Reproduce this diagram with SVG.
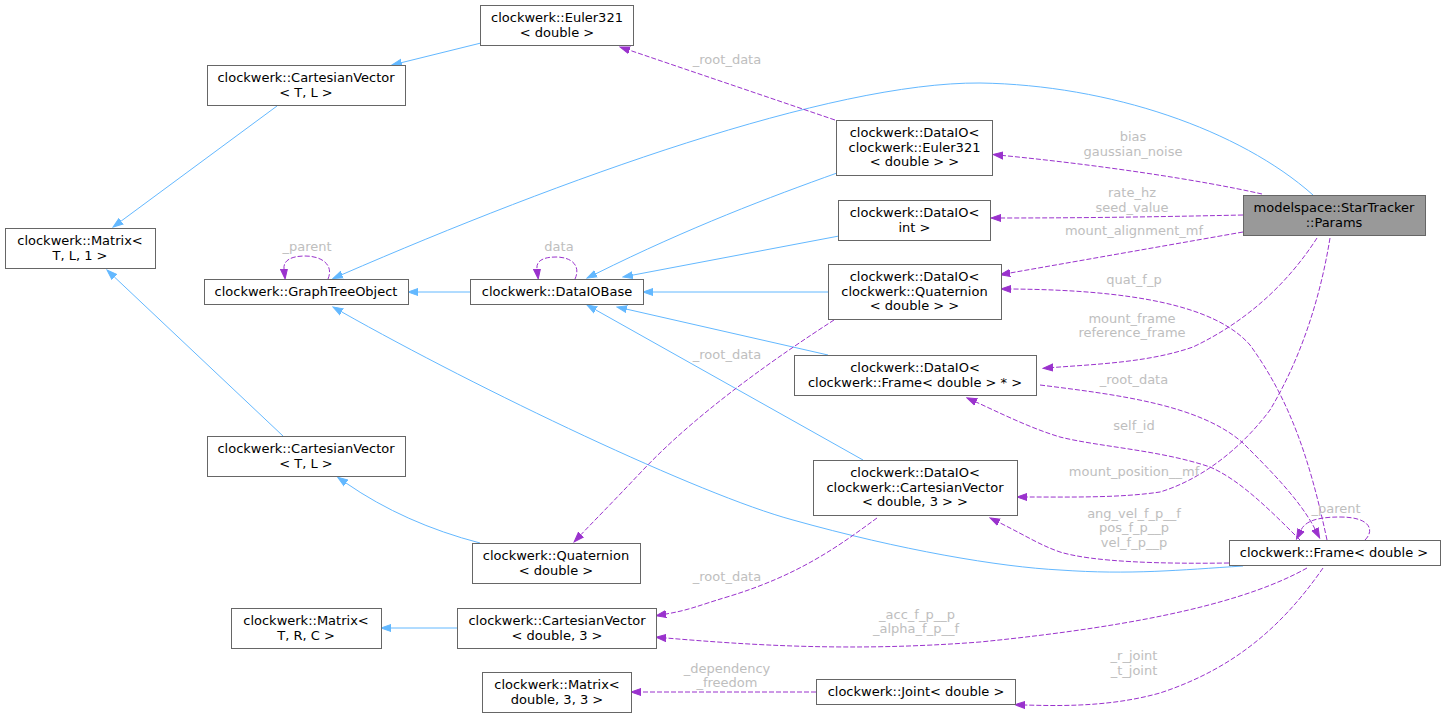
<svg xmlns="http://www.w3.org/2000/svg" width="1445" height="717" viewBox="0 0 1445 717">
<defs>
<style>
.node rect{fill:#ffffff;stroke:#666666;stroke-width:1}
.node.hl rect{fill:#999999}
.node text{font-family:"DejaVu Sans",sans-serif;font-size:13px;fill:#000000;text-anchor:middle}
.inh{fill:none;stroke:#63b8ff;stroke-width:1;marker-end:url(#ab)}
.use{fill:none;stroke:#9a32cd;stroke-width:1;stroke-dasharray:5,2;marker-end:url(#ap)}
.lbl{font-family:"DejaVu Sans",sans-serif;font-size:13px;fill:#bebebe;text-anchor:middle}
</style>
<marker id="ab" markerUnits="userSpaceOnUse" markerWidth="11" markerHeight="9" refX="0" refY="4.5" orient="auto" viewBox="0 0 11 9"><path d="M0,1 L10,4.5 L0,8 z" fill="#63b8ff" stroke="#63b8ff"/></marker>
<marker id="ap" markerUnits="userSpaceOnUse" markerWidth="11" markerHeight="9" refX="0" refY="4.5" orient="auto" viewBox="0 0 11 9"><path d="M0,1 L10,4.5 L0,8 z" fill="#9a32cd" stroke="#9a32cd"/></marker>
</defs>
<rect width="1445" height="717" fill="#ffffff"/>
<g id="connectors">
<path class="inh" d="M481,43 L401.7,62.6"/>
<path class="inh" d="M277,106 L121.1,221.1"/>
<path class="inh" d="M1313,195 C1240,130 1110,85 980,83 C830,82 560,180 342,274.6"/>
<path class="inh" d="M470,292 L418,292"/>
<path class="inh" d="M1243,566 C1180,570 1130,575 1060,570 C1000,567 900,550 793,520 C700,495 480,390 341.7,311.9"/>
<path class="inh" d="M283,436 L114.3,276.9"/>
<path class="inh" d="M480,543 C430,530 385,510 346,483"/>
<path class="inh" d="M837,173 C770,197 690,227 596,273.7"/>
<path class="inh" d="M839,236 L632.8,275.1"/>
<path class="inh" d="M829,292 L653,292"/>
<path class="inh" d="M828,355 L626.8,309.2"/>
<path class="inh" d="M863,460 L595.7,309.9"/>
<path class="inh" d="M457,628 L391,628"/>
<path class="use" d="M835,120 L629.5,50.2"/>
<path class="use" d="M1262,194 C1200,180 1100,165 1003,155.5"/>
<path class="use" d="M1243,215 C1150,217 1080,218 1001,218"/>
<path class="use" d="M1243,232 L1010,273"/>
<path class="use" d="M1327,540 C1310,460 1290,400 1250,345 C1215,305 1130,290 1011,289"/>
<path class="use" d="M1317,238 C1290,280 1250,320 1193,347 C1150,362 1100,364 1053,367.5"/>
<path class="use" d="M1040,385 C1120,395 1200,405 1243,443 C1270,470 1300,500 1315,529"/>
<path class="use" d="M1300,540 C1270,510 1240,480 1210,467 C1160,450 1100,447 1060,437 C1030,428 1000,413 976,402"/>
<path class="use" d="M1365,540 C1375,530 1370,517 1340,517 C1315,517 1305,522 1301,530"/>
<path class="use" d="M1330,238 C1320,300 1300,360 1270,410 C1240,450 1200,480 1160,492 C1120,498 1070,497 1027,497"/>
<path class="use" d="M1229,563 C1160,564 1093,562 1060,552 C1040,545 1030,538 999,522.4"/>
<path class="use" d="M877,518 C840,545 800,575 727,597 C700,605 690,610 666,614"/>
<path class="use" d="M1307,568 C1250,600 1150,625 980,642 C850,652 750,645 666,638"/>
<path class="use" d="M1323,568 C1280,630 1230,670 1160,693 C1110,707 1060,706 1025,705"/>
<path class="use" d="M816,692 L641,692"/>
<path class="use" d="M834,320 C780,355 700,410 643,470 C610,505 592,523 581,534.6"/>
<path class="use" d="M328,279 C334,265 322,256 305,256 C292,256 283,260 284,269"/>
<path class="use" d="M575,279 C581,266 572,257 556,257 C543,257 536,261 537,269"/>
<text class="lbl" x="727" y="64">_root_data</text>
<text class="lbl" x="1133" y="141">bias</text>
<text class="lbl" x="1133" y="156">gaussian_noise</text>
<text class="lbl" x="1132" y="197">rate_hz</text>
<text class="lbl" x="1132" y="212">seed_value</text>
<text class="lbl" x="1134" y="235">mount_alignment_mf</text>
<text class="lbl" x="1134" y="284">quat_f_p</text>
<text class="lbl" x="1132" y="323">mount_frame</text>
<text class="lbl" x="1132" y="337">reference_frame</text>
<text class="lbl" x="1134" y="384">_root_data</text>
<text class="lbl" x="1134" y="430">self_id</text>
<text class="lbl" x="1134" y="476">mount_position__mf</text>
<text class="lbl" x="1134" y="518">ang_vel_f_p__f</text>
<text class="lbl" x="1134" y="532">pos_f_p__p</text>
<text class="lbl" x="1134" y="547">vel_f_p__p</text>
<text class="lbl" x="1336" y="513">_parent</text>
<text class="lbl" x="917" y="619">_acc_f_p__p</text>
<text class="lbl" x="916" y="633">_alpha_f_p__f</text>
<text class="lbl" x="1134" y="660">_r_joint</text>
<text class="lbl" x="1134" y="675">_t_joint</text>
<text class="lbl" x="727" y="673">_dependency</text>
<text class="lbl" x="727" y="687">_freedom</text>
<text class="lbl" x="727" y="359">_root_data</text>
<text class="lbl" x="727" y="581">_root_data</text>
<text class="lbl" x="307" y="251">_parent</text>
<text class="lbl" x="559" y="251">data</text>
</g>
<g id="n_euler321" class="node"><rect x="480.5" y="5.5" width="153" height="40"/><text x="557" y="22">clockwerk::Euler321</text><text x="557" y="36.5">&lt; double &gt;</text></g>
<g id="n_cartvec_tl_top" class="node"><rect x="207.5" y="65.5" width="198" height="40"/><text x="306" y="82">clockwerk::CartesianVector</text><text x="306" y="96.5">&lt; T, L &gt;</text></g>
<g id="n_matrix_tl1" class="node"><rect x="5.5" y="228.5" width="150" height="40"/><text x="80" y="245">clockwerk::Matrix&lt;</text><text x="80" y="259.5">T, L, 1 &gt;</text></g>
<g id="n_graphtree" class="node"><rect x="204.5" y="279.5" width="204" height="25"/><text x="306" y="296">clockwerk::GraphTreeObject</text></g>
<g id="n_dataiobase" class="node"><rect x="470.5" y="279.5" width="173" height="25"/><text x="557" y="296">clockwerk::DataIOBase</text></g>
<g id="n_dataio_euler" class="node"><rect x="836.5" y="120.5" width="156" height="55"/><text x="914.5" y="137">clockwerk::DataIO&lt;</text><text x="914.5" y="151.5"> clockwerk::Euler321</text><text x="914.5" y="166">&lt; double &gt; &gt;</text></g>
<g id="n_dataio_int" class="node"><rect x="838.5" y="200.5" width="152" height="40"/><text x="914.5" y="217">clockwerk::DataIO&lt;</text><text x="914.5" y="231.5">int &gt;</text></g>
<g id="n_dataio_quat" class="node"><rect x="828.5" y="264.5" width="173" height="55"/><text x="914.5" y="281">clockwerk::DataIO&lt;</text><text x="914.5" y="295.5"> clockwerk::Quaternion</text><text x="914.5" y="310">&lt; double &gt; &gt;</text></g>
<g id="n_dataio_frame" class="node"><rect x="794.5" y="355.5" width="242" height="40"/><text x="915" y="372">clockwerk::DataIO&lt;</text><text x="915" y="386.5"> clockwerk::Frame&lt; double &gt; * &gt;</text></g>
<g id="n_dataio_cartvec" class="node"><rect x="813.5" y="460.5" width="204" height="55"/><text x="915" y="477">clockwerk::DataIO&lt;</text><text x="915" y="491.5"> clockwerk::CartesianVector</text><text x="915" y="506">&lt; double, 3 &gt; &gt;</text></g>
<g id="n_params" class="node hl"><rect x="1243.5" y="195.5" width="182" height="40"/><text x="1334" y="212">modelspace::StarTracker</text><text x="1334" y="226.5">::Params</text></g>
<g id="n_frame" class="node"><rect x="1229.5" y="540.5" width="211" height="25"/><text x="1334" y="557">clockwerk::Frame&lt; double &gt;</text></g>
<g id="n_cartvec_tl_low" class="node"><rect x="207.5" y="436.5" width="198" height="40"/><text x="306" y="453">clockwerk::CartesianVector</text><text x="306" y="467.5">&lt; T, L &gt;</text></g>
<g id="n_quaternion" class="node"><rect x="472.5" y="543.5" width="168" height="40"/><text x="556" y="560">clockwerk::Quaternion</text><text x="556" y="574.5">&lt; double &gt;</text></g>
<g id="n_matrix_trc" class="node"><rect x="231.5" y="608.5" width="150" height="40"/><text x="306" y="625">clockwerk::Matrix&lt;</text><text x="306" y="639.5">T, R, C &gt;</text></g>
<g id="n_cartvec_d3" class="node"><rect x="457.5" y="608.5" width="199" height="40"/><text x="557" y="625">clockwerk::CartesianVector</text><text x="557" y="639.5">&lt; double, 3 &gt;</text></g>
<g id="n_matrix_d33" class="node"><rect x="482.5" y="672.5" width="149" height="40"/><text x="557" y="689">clockwerk::Matrix&lt;</text><text x="557" y="703.5">double, 3, 3 &gt;</text></g>
<g id="n_joint" class="node"><rect x="816.5" y="679.5" width="199" height="25"/><text x="916" y="696">clockwerk::Joint&lt; double &gt;</text></g>
</svg>
